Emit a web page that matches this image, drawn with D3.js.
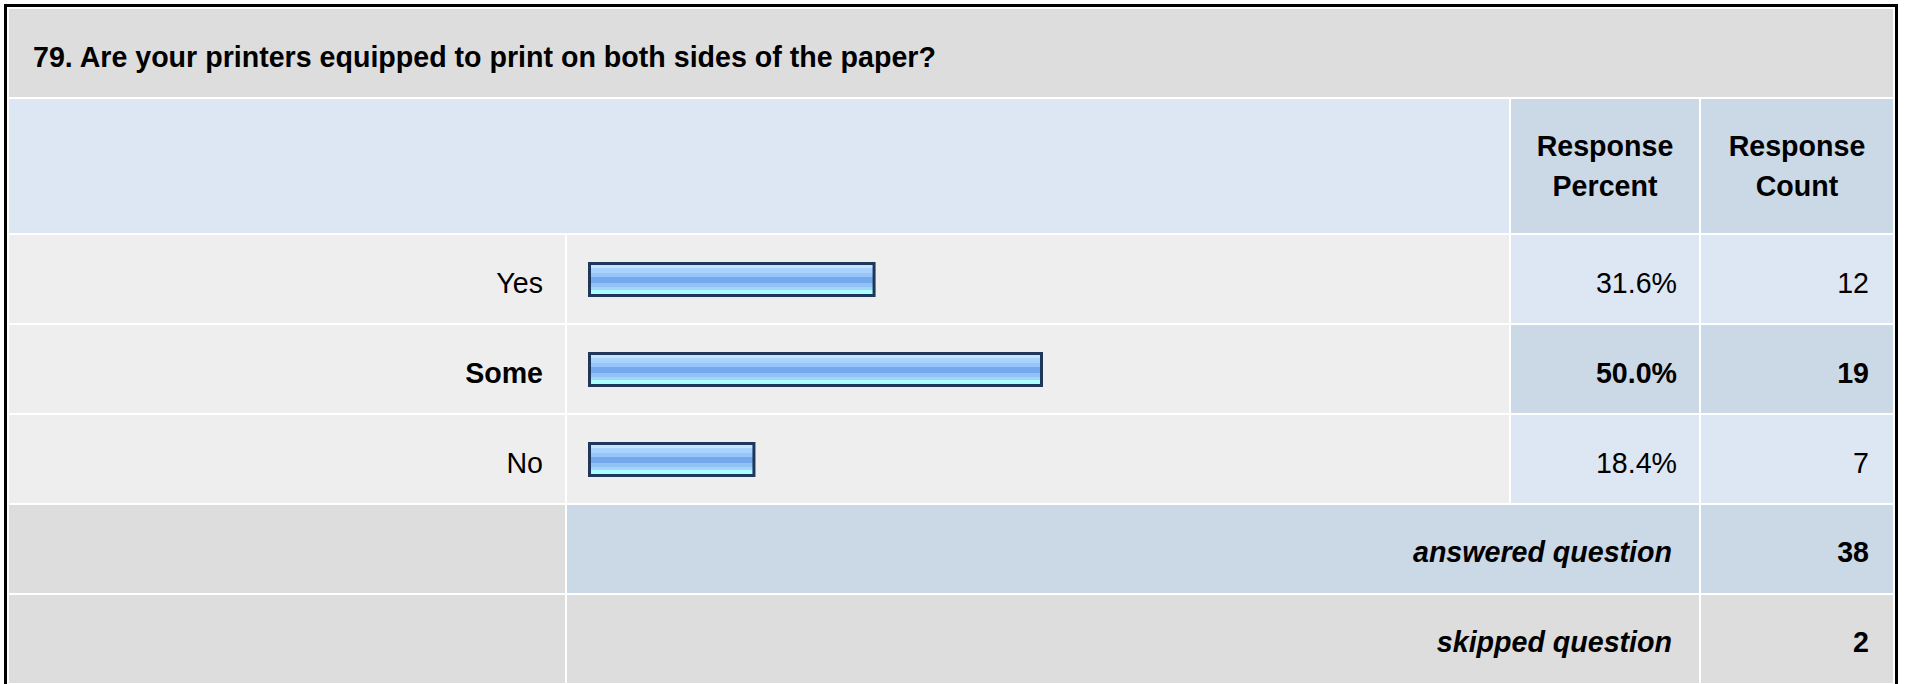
<!DOCTYPE html>
<html>
<head>
<meta charset="utf-8">
<script src="https://cdn.jsdelivr.net/npm/d3@7/dist/d3.min.js"></script>
<style>
  html, body { margin: 0; padding: 0; background: #ffffff; }
  svg { display: block; }
  text { font-family: Arial, "Liberation Sans", Helvetica, sans-serif; fill: #000; }
</style>
</head>
<body>
<svg id="chart" width="1907" height="684"></svg>
<script>
// ---- data ----
const questionTitle = "79. Are your printers equipped to print on both sides of the paper?";
const headerPercent = ["Response", "Percent"];
const headerCount = ["Response", "Count"];
const categories = ["Yes", "Some", "No"];
const percents = [31.6, 50.0, 18.4];
const counts = [12, 19, 7];
const summaryLabels = ["answered question", "skipped question"];
const summaryValues = [38, 2];

// ---- layout ----
const svg = d3.select("#chart");
const FONT = 28.6;
const cols = [[9, 565], [567, 1509], [1511, 1699], [1701, 1893]];
const titleRow = [9, 97];
const headerRow = [99, 233];
const rowH = 88, gap = 2;
const firstRowTop = 235;

const C = {
  title: "#dddddd", headLight: "#dde7f4", headDark: "#cbd8e6",
  row: "#eeeeee", cellLight: "#dde7f4", cellDark: "#cbd8e6", summary: "#dddddd"
};

// gradient for bars
const defs = svg.append("defs");
const grad = defs.append("linearGradient").attr("id", "barGrad")
  .attr("x1", 0).attr("y1", 0).attr("x2", 0).attr("y2", 1);
const stripes = [
  [0.00, "#c6e3fd"], [0.14, "#c6e3fd"],
  [0.14, "#a9d3fd"], [0.30, "#a9d3fd"],
  [0.30, "#97c7fa"], [0.42, "#97c7fa"],
  [0.42, "#74a9ee"], [0.60, "#74a9ee"],
  [0.60, "#90c2f6"], [0.72, "#90c2f6"],
  [0.72, "#a4d4fc"], [0.84, "#a4d4fc"],
  [0.84, "#aaffff"], [1.00, "#aaffff"]
];
grad.selectAll("stop").data(stripes).enter().append("stop")
  .attr("offset", d => d[0]).attr("stop-color", d => d[1]);

// outer border
svg.append("rect").attr("x", 4).attr("y", 4).attr("width", 1894).attr("height", 690).attr("fill", "#000");
svg.append("rect").attr("x", 7).attr("y", 7).attr("width", 1888).attr("height", 681).attr("fill", "#fff");

function cell(x0, x1, y0, y1, fill) {
  svg.append("rect").attr("x", x0).attr("y", y0).attr("width", x1 - x0).attr("height", y1 - y0).attr("fill", fill);
}
function txt(s, x, y, opts = {}) {
  return svg.append("text").attr("x", x).attr("y", y)
    .attr("text-anchor", opts.anchor || "end")
    .attr("font-size", FONT)
    .attr("font-weight", opts.bold ? "bold" : "normal")
    .attr("font-style", opts.italic ? "italic" : "normal")
    .text(s);
}

// title
cell(cols[0][0], cols[3][1], titleRow[0], titleRow[1], C.title);
txt(questionTitle, 33, titleRow[0] + 58, { anchor: "start", bold: true });

// header
cell(cols[0][0], cols[1][1], headerRow[0], headerRow[1], C.headLight);
cell(cols[2][0], cols[2][1], headerRow[0], headerRow[1], C.headDark);
cell(cols[3][0], cols[3][1], headerRow[0], headerRow[1], C.headDark);
[[cols[2], headerPercent], [cols[3], headerCount]].forEach(([c, lines]) => {
  lines.forEach((l, i) => txt(l, (c[0] + c[1]) / 2, 156 + i * 40, { anchor: "middle", bold: true }));
});

// rows via band scale
const y = d3.scaleBand().domain(categories)
  .range([firstRowTop, firstRowTop + categories.length * (rowH + gap)]);
const x = d3.scaleLinear().domain([0, 100]).range([588, 1498]);
const maxCount = d3.max(counts);

categories.forEach((cat, i) => {
  const top = y(cat), bot = top + rowH;
  const isMax = counts[i] === maxCount;
  cell(cols[0][0], cols[0][1], top, bot, C.row);
  cell(cols[1][0], cols[1][1], top, bot, C.row);
  cell(cols[2][0], cols[2][1], top, bot, isMax ? C.cellDark : C.cellLight);
  cell(cols[3][0], cols[3][1], top, bot, isMax ? C.cellDark : C.cellLight);
  txt(cat, cols[0][1] - 22, top + 58, { bold: isMax });
  txt(percents[i].toFixed(1) + "%", cols[2][1] - 22, top + 58, { bold: isMax });
  txt(String(counts[i]), cols[3][1] - 24, top + 58, { bold: isMax });
});

// bars
svg.selectAll("rect.bar").data(categories).enter().append("rect")
  .attr("class", "bar")
  .attr("x", d => x(0) + 1.5)
  .attr("y", d => y(d) + 28.5)
  .attr("width", (d, i) => x(percents[i]) - x(0) - 3)
  .attr("height", 32)
  .attr("fill", "url(#barGrad)")
  .attr("stroke", "#1e375a")
  .attr("stroke-width", 3);

// summary rows
const sumTop = firstRowTop + categories.length * (rowH + gap);
summaryLabels.forEach((lab, i) => {
  const top = sumTop + i * (rowH + gap), bot = top + rowH;
  const mid = i === 0 ? C.cellDark : C.summary;
  cell(cols[0][0], cols[0][1], top, bot, C.summary);
  cell(cols[1][0], cols[2][1], top, bot, mid);
  cell(cols[3][0], cols[3][1], top, bot, mid);
  txt(lab, cols[2][1] - 27, top + 57, { bold: true, italic: true });
  txt(String(summaryValues[i]), cols[3][1] - 24, top + 57, { bold: true });
});
</script>
</body>
</html>
